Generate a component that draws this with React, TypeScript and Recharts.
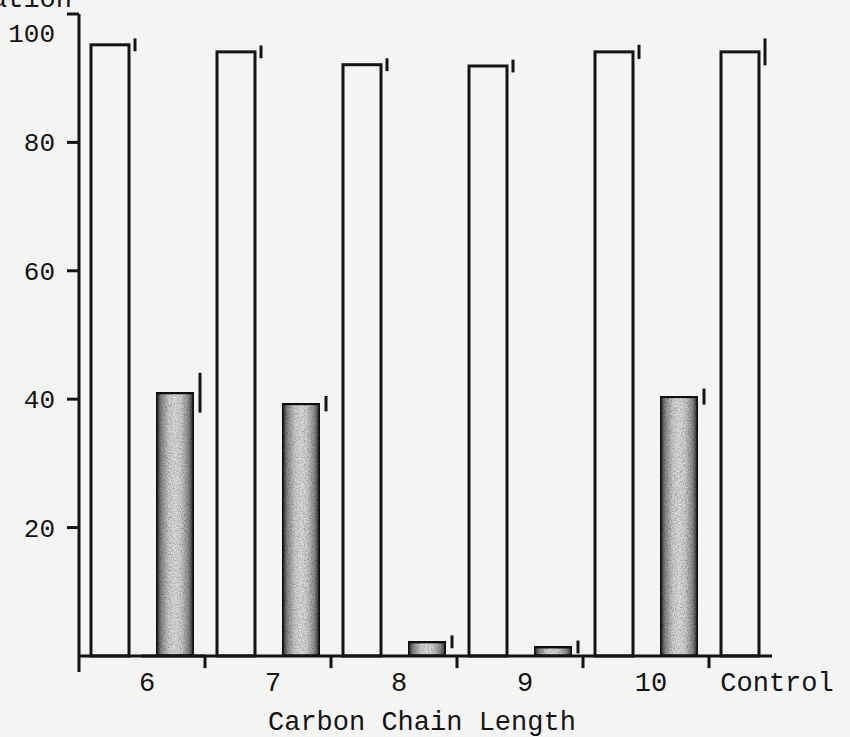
import { BarChart, Bar, XAxis, YAxis, ReferenceLine } from 'recharts'

// values
const categories = ['6', '7', '8', '9', '10', 'Control']
const untreated = [95.2, 94.1, 92.1, 91.9, 94.1, 94.1]
const treated: (number | null)[] = [41.0, 39.3, 2.2, 1.4, 40.4, null]
const untreatedErr = [1.0, 1.0, 1.0, 1.0, 1.1, 2.1]
const treatedErr: (number | null)[] = [3.1, 1.2, 1.0, 1.0, 1.25, null]
const yTicks = [20, 40, 60, 80, 100]

const data = categories.map((c, i) => ({
  name: c,
  untreated: untreated[i],
  treated: treated[i],
  untreatedErr: untreatedErr[i],
  treatedErr: treatedErr[i],
}))

const INK = '#141414'
const FONT = '"Liberation Mono", "DejaVu Sans Mono", monospace'

function makeShape(valueKey: 'untreated' | 'treated', errKey: 'untreatedErr' | 'treatedErr', shaded: boolean) {
  return (props: any) => {
    const { x, y, width, height, payload } = props
    const v = payload?.[valueKey]
    if (v == null || !height) return <g />
    const ppu = height / v
    const err = payload[errKey] ?? 0
    const ex = x + width + 6
    return (
      <g>
        <rect
          x={x}
          y={y}
          width={width}
          height={height}
          fill={shaded ? 'url(#shade)' : 'none'}
          filter={shaded ? 'url(#grain)' : undefined}
          stroke={INK}
          strokeWidth={3}
        />
        {err > 0 && (
          <line x1={ex} x2={ex} y1={y - err * ppu} y2={y + err * ppu} stroke={INK} strokeWidth={3} />
        )}
      </g>
    )
  }
}

// the typed "100" sits a little below its tick in the original
function YTick(props: any) {
  const { x, y, payload } = props
  const top = payload.value === yTicks[yTicks.length - 1]
  return (
    <text x={x} y={y} dy={top ? 28 : 9} textAnchor="end" fontFamily={FONT} fontSize={26} fill={INK}>
      {payload.value}
    </text>
  )
}

export default function App() {
  return (
    <div
      style={{
        position: 'absolute',
        left: 0,
        top: 0,
        width: 850,
        height: 737,
        overflow: 'hidden',
        background: '#f4f4f2',
      }}
    >
      <div
        style={{
          position: 'absolute',
          left: -9,
          top: -16,
          fontFamily: FONT,
          fontSize: 27,
          lineHeight: '32px',
          color: INK,
          whiteSpace: 'nowrap',
        }}
      >
        ation
      </div>
      <BarChart
        width={850}
        height={737}
        data={data}
        margin={{ top: 14, right: 15, left: 0, bottom: 0 }}
        barSize={38}
        barGap={27}
      >
        <defs>
          <linearGradient id="shade" x1="0" y1="0" x2="1" y2="0">
            <stop offset="0" stopColor="#1e1e1e" />
            <stop offset="0.14" stopColor="#8a8a8a" />
            <stop offset="0.34" stopColor="#cfcfcf" />
            <stop offset="0.5" stopColor="#dedede" />
            <stop offset="0.66" stopColor="#cfcfcf" />
            <stop offset="0.86" stopColor="#8a8a8a" />
            <stop offset="1" stopColor="#1e1e1e" />
          </linearGradient>
          <filter id="grain" x="0" y="0" width="100%" height="100%">
            <feTurbulence type="fractalNoise" baseFrequency="0.7" numOctaves="2" seed="4" result="noise" />
            <feColorMatrix
              in="noise"
              type="matrix"
              values="0 0 0 0 0  0 0 0 0 0  0 0 0 0 0  1.1 0 0 0 -0.4"
              result="speck"
            />
            <feComposite in="speck" in2="SourceGraphic" operator="in" result="clip" />
            <feMerge>
              <feMergeNode in="SourceGraphic" />
              <feMergeNode in="clip" />
            </feMerge>
          </filter>
        </defs>
        <XAxis
          dataKey="name"
          height={65}
          axisLine={false}
          tickLine={false}
          tickSize={0}
          tickMargin={0}
          interval={0}
          tick={{ fontFamily: FONT, fontSize: 27, fill: INK, dx: 5 }}
        />
        <YAxis
          width={79}
          domain={[-2.5, 100]}
          ticks={yTicks}
          allowDataOverflow
          axisLine={{ stroke: INK, strokeWidth: 3 }}
          tickLine={{ stroke: INK, strokeWidth: 3 }}
          tickSize={12}
          tickMargin={12}
          tick={<YTick />}
        />
        <Bar dataKey="untreated" isAnimationActive={false} shape={makeShape('untreated', 'untreatedErr', false)} />
        <Bar dataKey="treated" isAnimationActive={false} shape={makeShape('treated', 'treatedErr', true)} />
        <ReferenceLine
          segment={[{ x: '6', y: 0 }, { x: '7', y: 0 }]}
          position="start"
          stroke={INK}
          strokeWidth={3}
        />
        <ReferenceLine
          segment={[{ x: '6', y: 0 }, { x: 'Control', y: 0 }]}
          position="middle"
          stroke={INK}
          strokeWidth={3}
        />
        {categories.slice(1).map((c) => (
          <ReferenceLine
            key={c}
            segment={[{ x: c, y: 0 }, { x: c, y: -1.9 }]}
            position="start"
            stroke={INK}
            strokeWidth={3}
          />
        ))}
      </BarChart>
      <div
        style={{
          position: 'absolute',
          left: 268,
          top: 707,
          fontFamily: FONT,
          fontSize: 27,
          color: INK,
          whiteSpace: 'nowrap',
          lineHeight: '32px',
        }}
      >
        Carbon Chain Length
      </div>
    </div>
  )
}
